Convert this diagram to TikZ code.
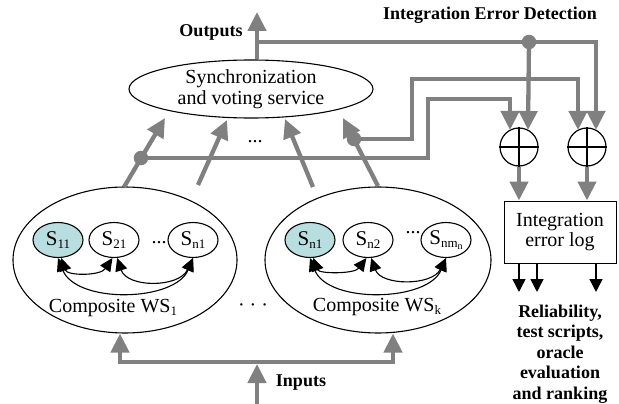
\documentclass[tikz,border=0pt]{standalone}
\usepackage{fontspec}
\setmainfont{Liberation Serif}
\usetikzlibrary{shapes.geometric,arrows.meta}
\definecolor{linegray}{RGB}{128,128,128}
\definecolor{svcteal}{RGB}{184,222,224}
\newcommand{\mysub}[1]{\raisebox{-3pt}{\fontsize{13}{13}\selectfont #1}}
\newcommand{\mysubsub}[1]{\raisebox{-2pt}{\fontsize{10}{10}\selectfont #1}}
\begin{document}
\begin{tikzpicture}[x=1pt,y=-1pt,
  every node/.style={font=\fontsize{20}{20.5}\selectfont},
  gline/.style={draw=linegray, line width=4.3pt},
  garrow/.style={gline, -{Triangle[length=19pt,width=18pt]}},
  gdot/.style={circle, fill=linegray, inner sep=0pt, minimum size=14.5pt},
  bigell/.style={ellipse, draw, line width=1.1pt, inner sep=0pt},
  svc/.style={ellipse, draw, line width=1.1pt, minimum width=50pt, minimum height=35pt, inner sep=0pt, font=\fontsize{21}{21}\selectfont},
  svcfill/.style={svc, fill=svcteal},
  curvearrow/.style={line width=1.1pt, {Triangle[length=13pt,width=12pt]}-{Triangle[length=13pt,width=12pt]}},
  logarrow/.style={line width=1.5pt, -{Triangle[length=13pt,width=13pt]}},
  plus/.style={circle, draw, line width=1.2pt, minimum size=38pt, inner sep=0pt},
  btxt/.style={font=\bfseries\fontsize{18}{20.5}\selectfont}]
\useasboundingbox (0,0) rectangle (619,404);

% main ellipses
\node[bigell, minimum width=244pt, minimum height=58pt, align=center] (sync) at (251,89) {Synchronization\\and voting service};
\node[bigell, minimum width=224pt, minimum height=146pt] (ws1) at (125,260) {};
\node[bigell, minimum width=226pt, minimum height=146pt] (wsk) at (378,260) {};

% outputs
\coordinate (outtop) at (257,12);
\coordinate (br) at (257,42);
\draw[garrow] (sync.north -| outtop) -- (outtop);
\node[btxt] (outlbl) at (211,32) {Outputs};
\node[btxt] (iedlbl) at (490,15) {Integration Error Detection};

% comparators
\node[plus] (p1) at (519,147) {};
\node[plus] (p2) at (587,147) {};
\draw[line width=1.2pt] (p1.north) -- (p1.south) (p1.west) -- (p1.east)
  (p2.north) -- (p2.south) (p2.west) -- (p2.east);
\coordinate (p1a) at (510,130);
\coordinate (p1b) at (528,130);
\coordinate (p2a) at (578,130);
\coordinate (p2b) at (596,130);

\draw[garrow] (br) -| (p2b);
\node[gdot] (d3) at (529,42) {};
\draw[garrow] (d3.center) -- (p1b);

% arrows into the voting service
\coordinate (a1s) at (124,187); \coordinate (a1t) at (165,118);
\coordinate (a2s) at (198,185); \coordinate (a2t) at (227,120);
\coordinate (a3s) at (313,187); \coordinate (a3t) at (285,119);
\coordinate (a4s) at (378,186); \coordinate (a4t) at (343,118);
\draw[garrow] (a1s) -- (a1t);
\draw[garrow] (a2s) -- (a2t);
\draw[garrow] (a3s) -- (a3t);
\draw[garrow] (a4s) -- (a4t);
\node (sdots) at (255,142) {...};

\coordinate (k1) at (428,99);
\coordinate (k2) at (412,79);
\node[gdot] (d1) at (141,158) {};
\node[gdot] (d2) at (354,139) {};
\draw[garrow] (d1.center) -| (k1) -| (p1a);
\draw[garrow] (d2.center) -| (k2) -| (p2a);

% error log
\node[draw, line width=1pt, minimum width=112pt, minimum height=62pt, align=center, inner sep=0pt] (log) at (560,232) {Integration\\error log};
\draw[garrow] (p1.south) -- (p1.south |- log.north);
\draw[garrow] (p2.south) -- (p2.south |- log.north);
\coordinate (r1) at (519,292);
\coordinate (r2) at (537,292);
\coordinate (r3) at (596,292);
\draw[logarrow] (log.south -| r1) -- (r1);
\draw[logarrow] (log.south -| r2) -- (r2);
\draw[logarrow] (log.south -| r3) -- (r3);
\node[btxt, align=center] (rel) at (560,354) {Reliability,\\test scripts,\\oracle\\evaluation\\and ranking};

% composite WS 1
\node[svcfill] (s11) at (58,240) {S\mysub{11}};
\node[svc] (s21) at (114,240) {S\mysub{21}};
\node[svc] (sn1) at (193,240) {S\mysub{n1}};
\node (wdots1) at (159,243) {...};
\draw[curvearrow] (s11.280) .. controls +(6,18) and +(-12,18) .. (s21.265);
\draw[curvearrow] (s21.280) .. controls +(10,30) and +(-14,30) .. (sn1.270);
\draw[curvearrow] (s11.270) .. controls +(18,46) and +(-18,44) .. (sn1.270);
\node (c1) at (113,308) {Composite WS\mysub{1}};

% composite WS k
\node[svcfill] (t1) at (310,240) {S\mysub{n1}};
\node[svc] (t2) at (368,240) {S\mysub{n2}};
\node[svc] (t3) at (446,240) {S\mysub{nm\mysubsub{n}}};
\node (wdotsk) at (413,233) {...};
\draw[curvearrow] (t1.280) .. controls +(6,16) and +(-12,16) .. (t2.265);
\draw[curvearrow] (t2.280) .. controls +(10,28) and +(-14,28) .. (t3.270);
\draw[curvearrow] (t1.270) .. controls +(18,46) and +(-18,44) .. (t3.270);
\node (ck) at (377,307) {Composite WS\mysub{k}};

\node (wsdots) at (253,308) {· · ·};

% inputs
\coordinate (inl) at (120,362);
\coordinate (inr) at (393,362);
\coordinate (inbot) at (257,404);
\coordinate (intip) at (257,364);
\draw[gline, {Triangle[length=19pt,width=18pt]}-{Triangle[length=19pt,width=18pt]}]
  (ws1.south -| inl) -- (inl) -- (inr) -- (wsk.south -| inr);
\draw[garrow] (inbot) -- (intip);
\node[btxt] (inlbl) at (301,383) {Inputs};
\end{tikzpicture}
\end{document}
